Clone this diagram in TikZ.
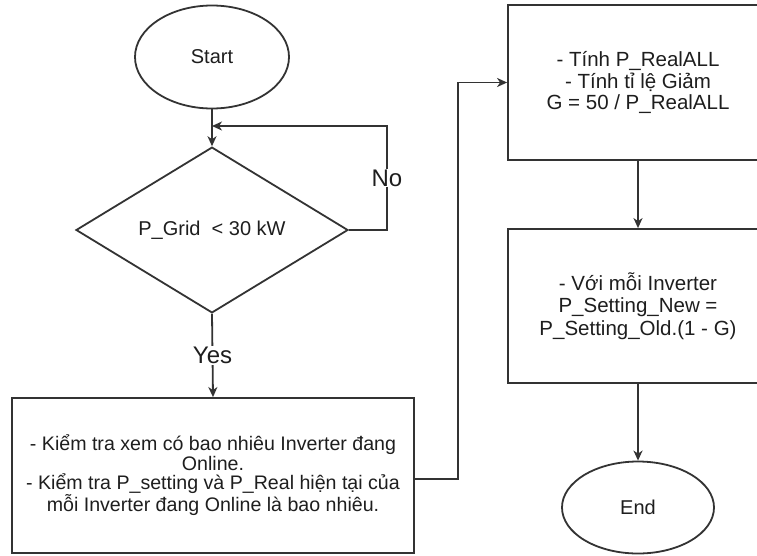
\documentclass[tikz,border=0pt]{standalone}
\usepackage{fontspec}
\setmainfont{Liberation Sans}
\usetikzlibrary{shapes.geometric,arrows.meta,positioning}
\definecolor{ln}{HTML}{333333}
\definecolor{tx}{HTML}{1E1E1E}
\tikzset{
  every node/.style={text=tx, font=\fontsize{20}{21}\selectfont},
  shp/.style={draw=ln, line width=1.8pt, inner sep=0pt, align=center},
  term/.style={shp, ellipse},
  decision/.style={shp, diamond},
  proc/.style={shp, rectangle},
  conn/.style={draw=ln, line width=1.8pt, -{Stealth[length=10pt,width=9pt,inset=3pt]}},
  lbl/.style={fill=white, inner sep=1pt, font=\fontsize{24}{24}\selectfont}
}
\begin{document}
\begin{tikzpicture}[x=1pt,y=-1pt]
\useasboundingbox (0,0) rectangle (757,555);
\clip (0,0) rectangle (757,555);
\fill[white] (0,0) rectangle (757,555);
\node[term, minimum width=154pt, minimum height=103pt] (start) at (212,57) {Start};
\node[decision, minimum width=272pt, minimum height=136pt] (dec) at (212,230) {P\_Grid \ < 30 kW};
\node[proc, minimum width=402pt, minimum height=155pt, font=\fontsize{19.6}{19.5}\selectfont] (chk) at (213,475.5)
  {- Kiểm tra xem có bao nhiêu Inverter đang\\Online.\\- Kiểm tra P\_setting và P\_Real hiện tại của\\mỗi Inverter đang Online là bao nhiêu.};
\node[proc, minimum width=260pt, minimum height=155pt, font=\fontsize{20.5}{21.5}\selectfont] (calc) at (638,82.5)
  {- Tính P\_RealALL\\- Tính tỉ lệ Giảm\\G = 50 / P\_RealALL};
\node[proc, minimum width=260pt, minimum height=154pt, font=\fontsize{20.5}{22.5}\selectfont] (set) at (638,306)
  {- Với mỗi Inverter\\P\_Setting\_New =\\P\_Setting\_Old.(1 - G)};
\node[term, minimum width=152pt, minimum height=92pt] (end) at (638,507.5) {End};
\coordinate (loopin) at (212,126);
\coordinate (c1) at (387,230);
\coordinate (c2) at (387,126);
\coordinate (c3) at (458,479);
\coordinate (c4) at (458,82.5);
\draw[conn] (start) -- (dec);
\draw[conn] (dec.east) -- (c1) -- node[lbl, pos=0.5] (no) {No} (c2) -- (loopin);
\draw[conn] (dec.south) -- node[lbl, pos=0.5] (yes) {Yes} (chk.north);
\draw[conn] (chk.east |- c3) -- (c3) -- (c4) -- (calc.west);
\draw[conn] (calc.south) -- (set.north);
\draw[conn] (set.south) -- (end.north);
\end{tikzpicture}
\end{document}
